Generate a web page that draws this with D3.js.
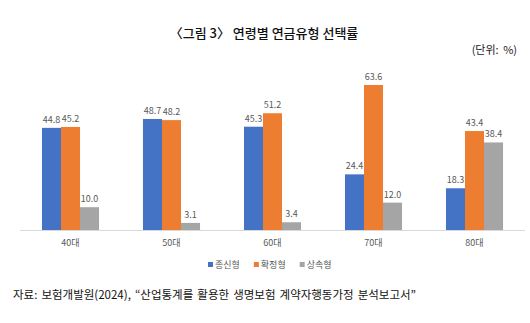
<!DOCTYPE html>
<html><head><meta charset="utf-8">
<script src="https://cdn.jsdelivr.net/npm/d3@7"></script>
<style>body{margin:0;background:#fff;} svg{display:block;font-family:"Noto Sans CJK KR","Noto Sans",sans-serif;}</style>
</head><body>
<script>
const categories = ["40대","50대","60대","70대","80대"];
const seriesNames = ["종신형","확정형","상속형"];
const lifetime = [44.8,48.7,45.3,24.4,18.3];
const fixed = [45.2,48.2,51.2,63.6,43.4];
const inherit = [10.0,3.1,3.4,12.0,38.4];
const colors = ["#4472C4","#ED7D31","#A5A5A5"];
const seriesValues = [lifetime, fixed, inherit];

const W=530,H=323;
const svg=d3.select("body").append("svg").attr("width",W).attr("height",H);

svg.append("text").attr("x",264).attr("y",38).attr("text-anchor","middle")
  .attr("font-size",13).attr("font-weight",500).attr("fill","#111").text("〈그림 3〉 연령별 연금유형 선택률");
svg.append("text").attr("x",517).attr("y",54).attr("text-anchor","end")
  .attr("font-size",11).attr("fill","#222").attr("word-spacing",2).text("(단위: %)");

const x0=d3.scaleBand().domain(categories).range([20,525]).paddingInner(0.435).paddingOuter(0.2175);
const x1=d3.scaleBand().domain(seriesNames).range([0,x0.bandwidth()]);
const y=d3.scaleLinear().domain([0,70]).range([230,70.4]);

svg.append("line").attr("x1",20).attr("x2",525).attr("y1",230.5).attr("y2",230.5).attr("stroke","#D9D9D9");

const g=svg.append("g");
categories.forEach((c,i)=>{
  seriesNames.forEach((s,j)=>{
    const v=seriesValues[j][i];
    g.append("rect").attr("x",x0(c)+x1(s)).attr("width",x1.bandwidth())
      .attr("y",y(v)).attr("height",y(0)-y(v)).attr("fill",colors[j]);
    g.append("text").attr("x",x0(c)+x1(s)+x1.bandwidth()/2).attr("y",y(v)-5)
      .attr("text-anchor","middle").attr("font-size",9).attr("fill","#595959").text(v.toFixed(1));
  });
  svg.append("text").attr("x",x0(c)+x0.bandwidth()/2).attr("y",246).attr("text-anchor","middle")
    .attr("font-size",9).attr("fill","#595959").text(c);
});

// legend
const lg=svg.append("g").attr("transform","translate(208,268)");
let lx=0;
seriesNames.forEach((s,j)=>{
  lg.append("rect").attr("x",lx).attr("y",-6).attr("width",5).attr("height",5).attr("fill",colors[j]);
  const t=lg.append("text").attr("x",lx+7).attr("y",0).attr("font-size",9).attr("fill","#595959").text(s);
  lx+=t.node().getComputedTextLength()+7+14;
});

svg.append("text").attr("x",13).attr("y",299).attr("font-size",11.5).attr("word-spacing",1.5).attr("fill","#111")
  .text("자료: 보험개발원(2024), “산업통계를 활용한 생명보험 계약자행동가정 분석보고서”");
</script>
</body></html>
